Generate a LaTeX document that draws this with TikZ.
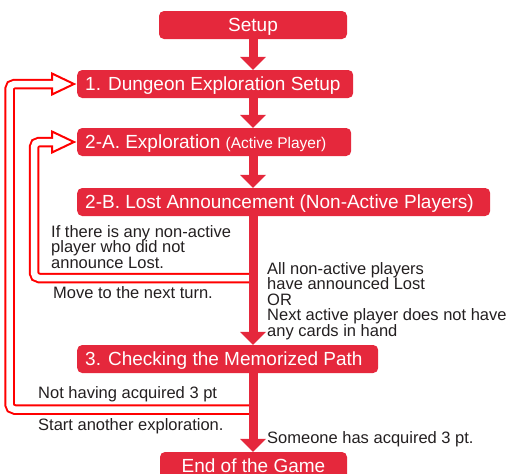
\documentclass[tikz,border=0pt]{standalone}
\usepackage{fontspec}
\setmainfont{Liberation Sans}
\usetikzlibrary{calc}
\definecolor{boxred}{RGB}{229,40,60}
\definecolor{loopred}{RGB}{255,0,0}
\definecolor{ink}{RGB}{35,31,32}
\newcommand\spinearrow[2]{%
  \draw[stem] (sp |- #1.south) -- ($(sp |- #2.north)+(0,-12.5)$);
  \fill[boxred] (sp |- #2.north) -- ++(-13,-13) -- ++(26,0) -- cycle;}
\newcommand\loopback[3]{%
  \draw[loopout] (#1) -- (#2 |- #1) -- (#2 |- #3.west) -- ($(#3.west)+(-24,0)$);
  \draw[loophead] ($(#3.west)+(-3,0)$) -- ++(-22,-10.5) -- ++(0,21) -- cycle;
  \draw[loopin] (#1) -- (#2 |- #1) -- (#2 |- #3.west) -- ($(#3.west)+(-22,0)$);}
\begin{document}
\begin{tikzpicture}[x=1pt,y=-1pt,
  box/.style={fill=boxred, rounded corners=5pt, text=white, minimum height=28pt,
    inner xsep=8pt, inner ysep=0pt, font=\fontsize{19}{22}\selectfont,
    text height=13.7pt, text depth=0pt},
  note/.style={text=ink, inner sep=0pt, align=left,
    font=\fontsize{16.5}{15.6}\selectfont, anchor=base west},
  stem/.style={draw=boxred, line width=9pt},
  loopout/.style={draw=loopred, line width=10.5pt, rounded corners=5pt},
  loopin/.style={draw=white, line width=6.5pt, rounded corners=5pt},
  loophead/.style={fill=white, draw=loopred, line width=2pt, line join=miter}]
\useasboundingbox (0,0) rectangle (509,474);
\clip (0,0) rectangle (509,474);

\coordinate (sp) at (253,0);

% boxes
\node[box, anchor=center, minimum width=188pt] (setup) at (253,25) {Setup};
\node[box, anchor=west] (d1) at (77,84) {\makebox[260pt][l]{1. Dungeon Exploration Setup}};
\node[box, anchor=west] (e2a) at (77,142) {\makebox[258pt][l]{2-A. Exploration {\fontsize{15.5}{18}\selectfont(Active Player)}}};
\node[box, anchor=west] (l2b) at (77,202) {\makebox[397pt][l]{2-B. Lost Announcement (Non-Active Players)}};
\node[box, anchor=west] (c3) at (77,359) {\makebox[285pt][l]{3. Checking the Memorized Path}};
\node[box, anchor=center, minimum width=187pt] (end) at (253.5,466) {End of the Game};

% feedback loops
\coordinate (tapA) at (253,278);
\coordinate (tapB) at (253,409.5);
\coordinate (xA) at (34,0);
\coordinate (xB) at (9.5,0);
\loopback{tapB}{xB}{d1}
\loopback{tapA}{xA}{e2a}

% spine
\spinearrow{setup}{d1}
\spinearrow{d1}{e2a}
\spinearrow{e2a}{l2b}
\spinearrow{l2b}{c3}
\spinearrow{c3}{end}

% notes
\node[note] (n1) at (51,268.3) {If there is any non-active\\player who did not\\announce Lost.};
\node[note] (n2) at (53,298) {Move to the next turn.};
\node[note] (n3) at (267,336.5) {All non-active players\\have announced Lost\\OR\\Next active player does not have\\any cards in hand};
\node[note] (n4) at (38,398) {Not having acquired 3 pt};
\node[note] (n5) at (38,430) {Start another exploration.};
\node[note] (n6) at (267,443) {Someone has acquired 3 pt.};
\end{tikzpicture}
\end{document}
